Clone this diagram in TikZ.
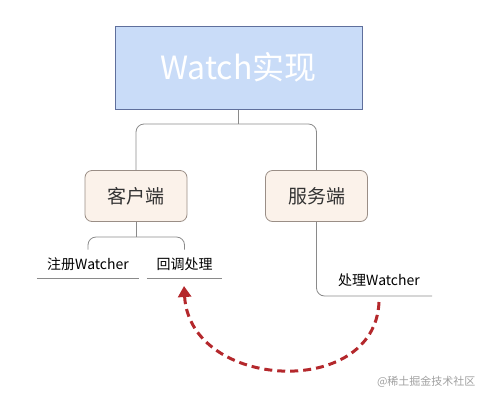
\documentclass[tikz,border=0pt]{standalone}
\usepackage{fontspec}
\setmainfont{Noto Sans CJK SC}
\usetikzlibrary{arrows.meta}
\definecolor{topfill}{HTML}{C9DCF8}
\definecolor{topline}{HTML}{5F6F9C}
\definecolor{sidefill}{HTML}{FBF2EA}
\definecolor{sideline}{HTML}{9A8E86}
\definecolor{linegray}{HTML}{8A8A8A}
\definecolor{textgray}{HTML}{333333}
\definecolor{arrowred}{HTML}{B4282C}
\definecolor{markgray}{HTML}{A0A0A0}

\begin{document}
\begin{tikzpicture}[x=1pt,y=-1pt,
  rootbox/.style={draw=topline,fill=topfill,line width=1pt,minimum width=247pt,minimum height=83pt,text=white,font=\fontsize{32}{32}\selectfont},
  sidebox/.style={draw=sideline,fill=sidefill,rounded corners=7pt,line width=0.8pt,minimum width=102pt,minimum height=51pt,text=textgray,font=\fontsize{19}{19}\selectfont},
  leaf/.style={inner sep=0pt,anchor=south,text=black,font=\fontsize{14}{14}\selectfont},
  branch/.style={draw=linegray,line width=0.8pt,rounded corners=8pt},
  underline/.style={draw=linegray,line width=0.8pt},
  backarrow/.style={draw=arrowred,line width=3pt,dash pattern=on 8pt off 5pt,-{Triangle[width=13pt,length=11pt]}}]
\useasboundingbox (0,0) rectangle (490,400);
% main box and the two sides
\node[rootbox] (root) at (238.5,67.5) {Watch实现};
\node[sidebox] (client) at (136,196) {客户端};
\node[sidebox] (server) at (316.5,196) {服务端};
\coordinate (hub) at (238.5,124);
\draw[branch] (root.south) -- (hub);
\draw[branch] (client.north) |- (hub) -| (server.north);
% client leaves
\node[leaf,minimum width=102pt,minimum height=28pt] (reg) at (88,278) {注册Watcher};
\node[leaf,minimum width=75pt,minimum height=28pt] (cb) at (184.5,278) {回调处理};
\draw[underline] (reg.south west) -- (reg.south east);
\draw[underline] (cb.south west) -- (cb.south east);
\coordinate (clhub) at (136,237);
\draw[branch] (client.south) -- (clhub);
\draw[branch] (reg.north) |- (clhub) -| (cb.north);
% server leaf
\node[leaf,minimum width=115pt,minimum height=32pt] (proc) at (374.5,296) {\hspace{9pt}处理Watcher};
\draw[branch] (server.south) |- (proc.south east);
% callback arrow
\coordinate (from) at (379,302);
\coordinate (to) at (184,286);
\draw[backarrow] (from) .. controls (375,400) and (190,390) .. (to);
\node[anchor=east,text=markgray,font=\fontsize{11}{11}\selectfont] (mark) at (479,382) {@稀土掘金技术社区};
\end{tikzpicture}
\end{document}
